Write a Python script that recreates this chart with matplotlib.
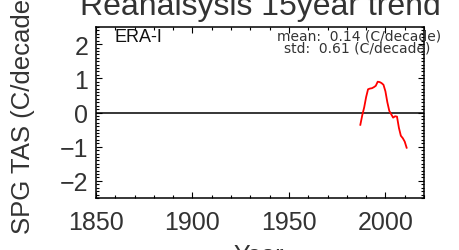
"""Reanalysis 15-year trend of SPG TAS (ERA-I)."""

import matplotlib
matplotlib.use("Agg")
import matplotlib.pyplot as plt
from matplotlib.ticker import MultipleLocator

W, H = 459, 251

# 15-year trend, centred year -> C/decade
years = [1987, 1988, 1989, 1990, 1991, 1992, 1993, 1994, 1995, 1996, 1997, 1998, 1999,
         2000, 2001, 2002, 2003, 2004, 2005, 2006, 2007, 2008, 2009, 2010, 2011]
trend = [-0.36, -0.08, 0.15, 0.45, 0.68, 0.70, 0.71, 0.74, 0.78, 0.90, 0.89, 0.86, 0.81,
         0.62, 0.30, 0.05, -0.05, -0.15, -0.11, -0.12, -0.45, -0.68, -0.75, -0.85, -1.03]

title = "Reanalsysis 15year trend"
dataset = "ERA-I"
mean_txt = "mean:  0.14 (C/decade)"
std_txt = "std:  0.61 (C/decade)"
xticks = [1850, 1900, 1950, 2000]
yticks = [-2, -1, 0, 1, 2]

plt.rcParams["font.family"] = ["Liberation Sans", "DejaVu Sans"]

fig = plt.figure(figsize=(W / 100, H / 100), dpi=100)
ax = fig.add_axes([96 / W, 1 - 199 / H, (424 - 96) / W, (199 - 28) / H])

ax.axhline(0, color="black", lw=1.1, zorder=1)
ax.plot(years, trend, color="red", lw=1.3, zorder=2)

ax.set_xlim(1850, 2020)
ax.set_ylim(-2.5, 2.5)
ax.set_xticks(xticks)
ax.set_yticks(yticks)
ax.xaxis.set_minor_locator(MultipleLocator(10))
ax.yaxis.set_minor_locator(MultipleLocator(0.1))
ax.tick_params(which="both", direction="in", top=True, right=True, width=0.8, colors="black")
ax.tick_params(which="major", length=4)
ax.tick_params(which="minor", length=2.2)
ax.tick_params(axis="x", which="major", labelsize=18, pad=8.5, labelcolor="#333333")
ax.tick_params(axis="y", which="major", labelsize=18, pad=5.5, labelcolor="#333333")
for s in ax.spines.values():
    s.set_linewidth(1.1)

fig.text(115 / W, 1 - 42 / H, dataset, fontsize=13, ha="left", va="baseline", color="#111111")
fig.text(359 / W, 1 - 41 / H, mean_txt, fontsize=10, family=["DejaVu Sans"],
         ha="center", va="baseline", color="#333333")
fig.text(357 / W, 1 - 52 / H, std_txt, fontsize=10, family=["DejaVu Sans"],
         ha="center", va="baseline", color="#333333")

fig.text(260 / W, 1 - 15 / H, title, fontsize=23, ha="center", va="baseline", color="#333333")
fig.text(23 / W, 1 - 112 / H, "SPG TAS (C/decade)", fontsize=18.5, rotation=90,
         ha="center", va="center", color="#333333")
fig.text(259 / W, 1 - 263 / H, "Year", fontsize=18, ha="center", va="baseline", color="#333333")

fig.savefig("out.png", dpi=100)
